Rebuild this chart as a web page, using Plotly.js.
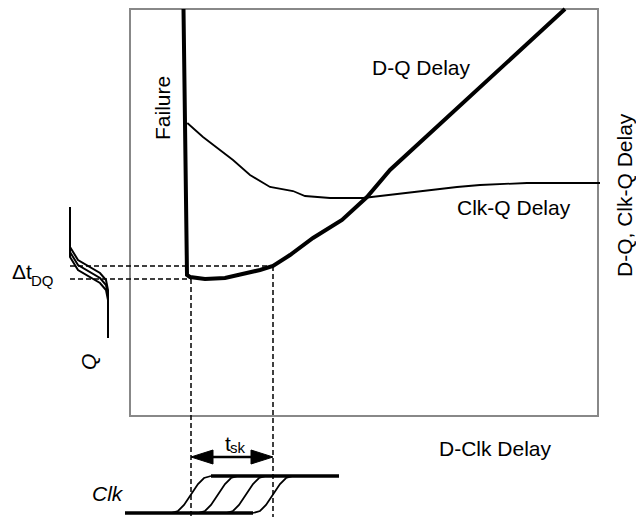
<!DOCTYPE html>
<html>
<head>
<meta charset="utf-8">
<script src="https://cdn.plot.ly/plotly-3.0.1.min.js"></script>
<style>html,body{margin:0;padding:0;background:#fff;}#chart{width:636px;height:517px;}</style>
</head>
<body>
<div id="chart"></div>
<script>
// ---- data (arbitrary delay units; plot box spans 0..468 x 0..407) ----
const boxX = [0, 468];
const boxY = [0, 407];

// D-Q delay vs D-Clk delay (includes the vertical "failure" edge)
const dqX = [53.5, 57, 60, 75, 95, 130, 143, 160, 183, 212, 237, 260, 310, 370, 400, 435];
const dqY = [407, 141, 139, 137, 138, 146, 150, 161, 178, 196, 219, 246, 292, 347, 375, 407];

// Clk-Q delay vs D-Clk delay
const ckqX = [57.3, 73, 103, 120, 140, 163, 175, 200, 233, 267, 300, 327, 350, 397, 470];
const ckqY = [293, 279, 256, 241, 229, 225, 220, 218, 218, 222, 226, 229, 231, 233, 233];

// skew window and delta-t levels
const skewX = [61, 143];
const dtY = [137, 150];
const dashLeft = -60;
const dashBottom = -101;

// Q output waveforms (three arrival times)
const qX  = [-60, -60, -52, -40, -30, -24, -22, -22];
const qY1 = [209, 169, 156, 149, 143, 136, 126, 78];
const qY2 = [209, 164, 151, 144, 138, 131, 121, 78];
const qY3 = [209, 159, 146, 139, 133, 126, 116, 78];

// Clk edges (four skewed clock arrivals)
const clkY  = [-97, -95, -89, -78.5, -68, -62, -60];
const clkX1 = [41, 48, 54, 61, 68, 74, 81];
const clkX2 = [68, 75, 81, 88, 95, 101, 108];
const clkX3 = [96, 103, 109, 116, 123, 129, 136];
const clkX4 = [123, 130, 136, 143, 150, 156, 163];
const clkLowX = [-5, 123];
const clkHighX = [81, 209];
const clkLow = -97, clkHigh = -60;

// t_sk arrow level
const arrowY = -41;

// ---- drawing ----
const F = 'Arial, "Liberation Sans", sans-serif';
const black = '#000';
const traces = [];
function line(x, y, w, dash) {
  traces.push({x: x, y: y, type: 'scatter', mode: 'lines', hoverinfo: 'skip',
    line: {color: black, width: w, dash: dash || 'solid'}});
}
// dashed guides
line([dashLeft, skewX[1]], [dtY[1], dtY[1]], 1.5, '5px,3px');
line([dashLeft, skewX[0]], [dtY[0], dtY[0]], 1.5, '5px,3px');
line([skewX[0], skewX[0]], [dtY[0], dashBottom], 1.5, '5px,3px');
line([skewX[1], skewX[1]], [dtY[1], dashBottom], 1.5, '5px,3px');
// curves
line(ckqX, ckqY, 1.8);
line(dqX, dqY, 4);
// Q waveforms
line(qX, qY1, 2); line(qX, qY2, 2); line(qX, qY3, 2);
// Clk waveforms
[clkX1, clkX2, clkX3, clkX4].forEach(function (cx) { line(cx, clkY, 1.8); });
line(clkLowX, [clkLow, clkLow], 3.5);
line(clkHighX, [clkHigh, clkHigh], 3.5);
// t_sk arrow
const headL = 22, headH = 7;
line([skewX[0] + headL, skewX[1] - headL], [arrowY, arrowY], 2.5);
traces.push({x: [skewX[0], skewX[0] + headL, skewX[0] + headL, skewX[0]],
  y: [arrowY, arrowY + headH, arrowY - headH, arrowY], type: 'scatter', mode: 'lines',
  fill: 'toself', fillcolor: black, line: {color: black, width: 1}, hoverinfo: 'skip'});
traces.push({x: [skewX[1], skewX[1] - headL, skewX[1] - headL, skewX[1]],
  y: [arrowY, arrowY + headH, arrowY - headH, arrowY], type: 'scatter', mode: 'lines',
  fill: 'toself', fillcolor: black, line: {color: black, width: 1}, hoverinfo: 'skip'});

function ann(text, x, y, opts, size, style) {
  return Object.assign({text: text, x: x, y: y, xref: 'x', yref: 'y', showarrow: false,
    font: {family: F, size: size || 21, color: black, style: style || 'normal'},
    xanchor: 'center', yanchor: 'middle', borderpad: 0}, opts || {});
}
const annotations = [
  ann('Failure', 32, 308, {textangle: -90}),
  ann('D-Q Delay', 291, 349),
  ann('Clk-Q Delay', 384, 209),
  ann('D-Q, Clk-Q Delay', 494, 221, {textangle: -90}),
  ann('D-Clk Delay', 365, -32),
  ann('\u0394t', -97, 145, {xanchor: 'right'}),
  ann('DQ', -100, 136, {xanchor: 'left'}, 15),
  ann('Q', -42, 54, {textangle: -90}, 21, 'italic'),
  ann('t', 102, -27, {xanchor: 'right'}),
  ann('sk', 99, -31, {xanchor: 'left'}, 15),
  ann('Clk', -5, -77.5, {xanchor: 'right'}, 21, 'italic')
];

const layout = {
  width: 636, height: 517,
  margin: {l: 0, r: 0, t: 0, b: 0},
  paper_bgcolor: '#fff', plot_bgcolor: '#fff',
  showlegend: false,
  xaxis: {range: [-130, 506], visible: false, fixedrange: true},
  yaxis: {range: [-101, 416], visible: false, fixedrange: true},
  shapes: [{type: 'rect', xref: 'x', yref: 'y', x0: boxX[0], x1: boxX[1], y0: boxY[0], y1: boxY[1],
    line: {color: '#888', width: 2}, layer: 'below'}],
  annotations: annotations
};
Plotly.newPlot('chart', traces, layout, {staticPlot: true, displayModeBar: false});
</script>
</body>
</html>
